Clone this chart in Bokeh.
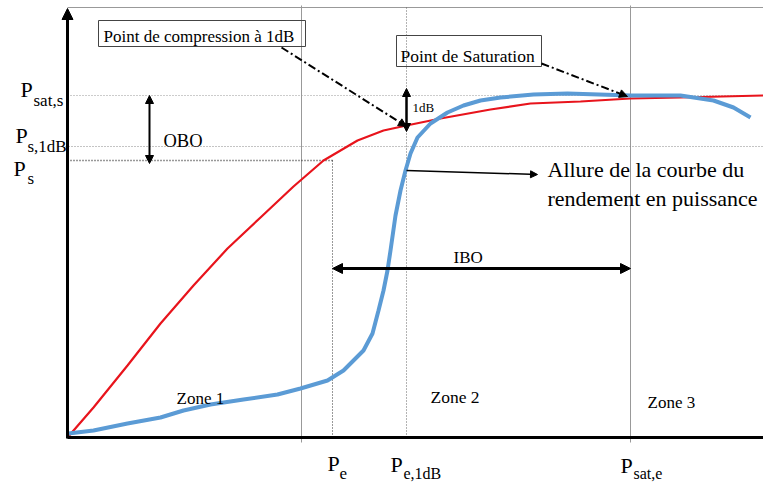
from bokeh.plotting import figure
from bokeh.models import Range1d, Arrow, NormalHead
from bokeh.core.properties import value
from bokeh.embed import file_html
from bokeh.resources import INLINE

# ---- data (units measured from the origin of the axes) ----
# Output power vs input power (red curve)
red_x = [0, 26, 60, 93, 126, 160, 193, 226, 256, 290, 316, 339, 373, 423, 463, 513, 563, 613, 696]
red_y = [0, 30, 72, 114, 152, 189, 220, 251, 277, 297, 307, 312, 319, 328, 334, 336, 339, 340, 342]

# Power efficiency shape (blue curve)
blue_x = [1, 26, 60, 93, 116, 143, 176, 210, 233, 260, 276, 283, 296, 305, 311, 316, 320, 323,
          328, 333, 338, 343, 350, 363, 380, 396, 413, 433, 466, 500, 563, 613, 646, 666, 683]
blue_y = [4, 7, 14, 20, 27, 33, 38, 43, 49, 57, 67, 74, 87, 104, 127, 147, 167, 187,
          222, 247, 267, 284, 300, 314, 325, 332, 337, 340, 343, 344, 342, 342, 337, 330, 320]

# characteristic levels
P_e, P_e_1dB, P_sat_e, zone_12 = 265, 339, 563, 234
P_sat_s, P_s_1dB, P_s = 342, 291, 277
x_max, y_max = 696, 429

FONT = value("Liberation Serif")

p = figure(width=763, height=484, x_range=Range1d(-67, 696), y_range=Range1d(-47, 437),
           output_backend="svg", toolbar_location=None, min_border=0,
           x_axis_location=None, y_axis_location=None)
p.grid.visible = False
p.outline_line_color = None
p.background_fill_color = "white"

# frame / reference lines
p.line([0, x_max], [430, 430], line_color="#999999", line_width=1)
for xv in (zone_12, P_sat_e):
    p.line([xv, xv], [-5, 432], line_color="#999999", line_width=1)
p.line([P_e_1dB, P_e_1dB], [0, 432], line_color="#666666", line_width=1, line_dash="1 2")
p.line([P_e, P_e], [0, P_s], line_color="#333333", line_width=1, line_dash="1 2")
p.line([0, x_max], [P_sat_s, P_sat_s], line_color="#999999", line_width=1, line_dash="1 2")
p.line([-5, x_max], [P_s_1dB, P_s_1dB], line_color="#888888", line_width=1, line_dash="1 2")
p.line([0, P_e], [P_s, P_s], line_color="#333333", line_width=1.3, line_dash="1 2")

# curves
p.line(red_x, red_y, line_color="#E8141C", line_width=2.2)
p.line(blue_x, blue_y, line_color="#5B9BD5", line_width=4)

# boxes
p.quad(left=[31], right=[238], bottom=[391], top=[417], fill_color=None,
       line_color="#444444", line_width=1)
p.quad(left=[329], right=[474], bottom=[371], top=[402], fill_color=None,
       line_color="#444444", line_width=1)

def head(s=9):
    return NormalHead(size=s, fill_color="black", line_color="black")

# axes
p.add_layout(Arrow(end=head(11), x_start=0, y_start=-1, x_end=0, y_end=y_max,
                   line_width=3, line_color="black"))
p.line([0, x_max], [0, 0], line_color="black", line_width=3)

# annotation arrows
p.add_layout(Arrow(end=head(8), x_start=214, y_start=390, x_end=P_e_1dB, y_end=311,
                   line_width=2, line_color="black", line_dash="8 3 2 3"))
p.add_layout(Arrow(end=head(8), x_start=474, y_start=374, x_end=P_sat_e - 3, y_end=P_sat_s - 1,
                   line_width=2, line_color="black", line_dash="8 3 2 3"))
p.add_layout(Arrow(end=head(7), x_start=P_e_1dB, y_start=267, x_end=470, y_end=263,
                   line_width=1.5, line_color="black"))
p.add_layout(Arrow(start=head(8), end=head(8), x_start=82, y_start=P_s - 3, x_end=82, y_end=P_sat_s,
                   line_width=2, line_color="black"))
p.add_layout(Arrow(start=head(10), end=head(10), x_start=P_e, y_start=169, x_end=P_sat_e, y_end=169,
                   line_width=3, line_color="black"))
p.add_layout(Arrow(start=head(8), end=head(8), x_start=P_e_1dB, y_start=306, x_end=P_e_1dB, y_end=349,
                   line_width=2.5, line_color="black"))

def txt(x, y, s, size):
    p.text(x=[x], y=[y], text=[s], text_font=FONT, text_font_size=size,
           text_baseline="alphabetic", text_align="left", text_color="black")

# texts
txt(36, 401, "Point de compression à 1dB", "17px")
txt(333, 382, "Point de Saturation", "17.5px")
txt(345, 330, "1dB", "13px")
txt(96, 297, "OBO", "18.5px")
txt(480, 268, "Allure de la courbe du", "22px")
txt(480, 239, "rendement en puissance", "22px")
txt(386, 180, "IBO", "17px")
txt(109, 39, "Zone 1", "17px")
txt(363, 41, "Zone 2", "17.5px")
txt(580, 35, "Zone 3", "17px")

# axis labels with subscripts
y_labels = [(-47, 348, -34, 337, "sat,s", "17px"), (-52, 302, -40, 291, "s,1dB", "17px"),
            (-54, 269, -40, 259, "s", "17px")]
x_labels = [(260, -26, 272, -36, "e", "17px"), (323, -27, 336, -36, "e,1dB", "16px"),
            (553, -28, 566, -36, "sat,e", "16px")]
for (px_, py_, sx, sy, sub, fs) in y_labels + x_labels:
    txt(px_, py_, "P", "22px")
    txt(sx, sy, sub, fs)

open("out.html", "w").write(file_html(p, INLINE))
